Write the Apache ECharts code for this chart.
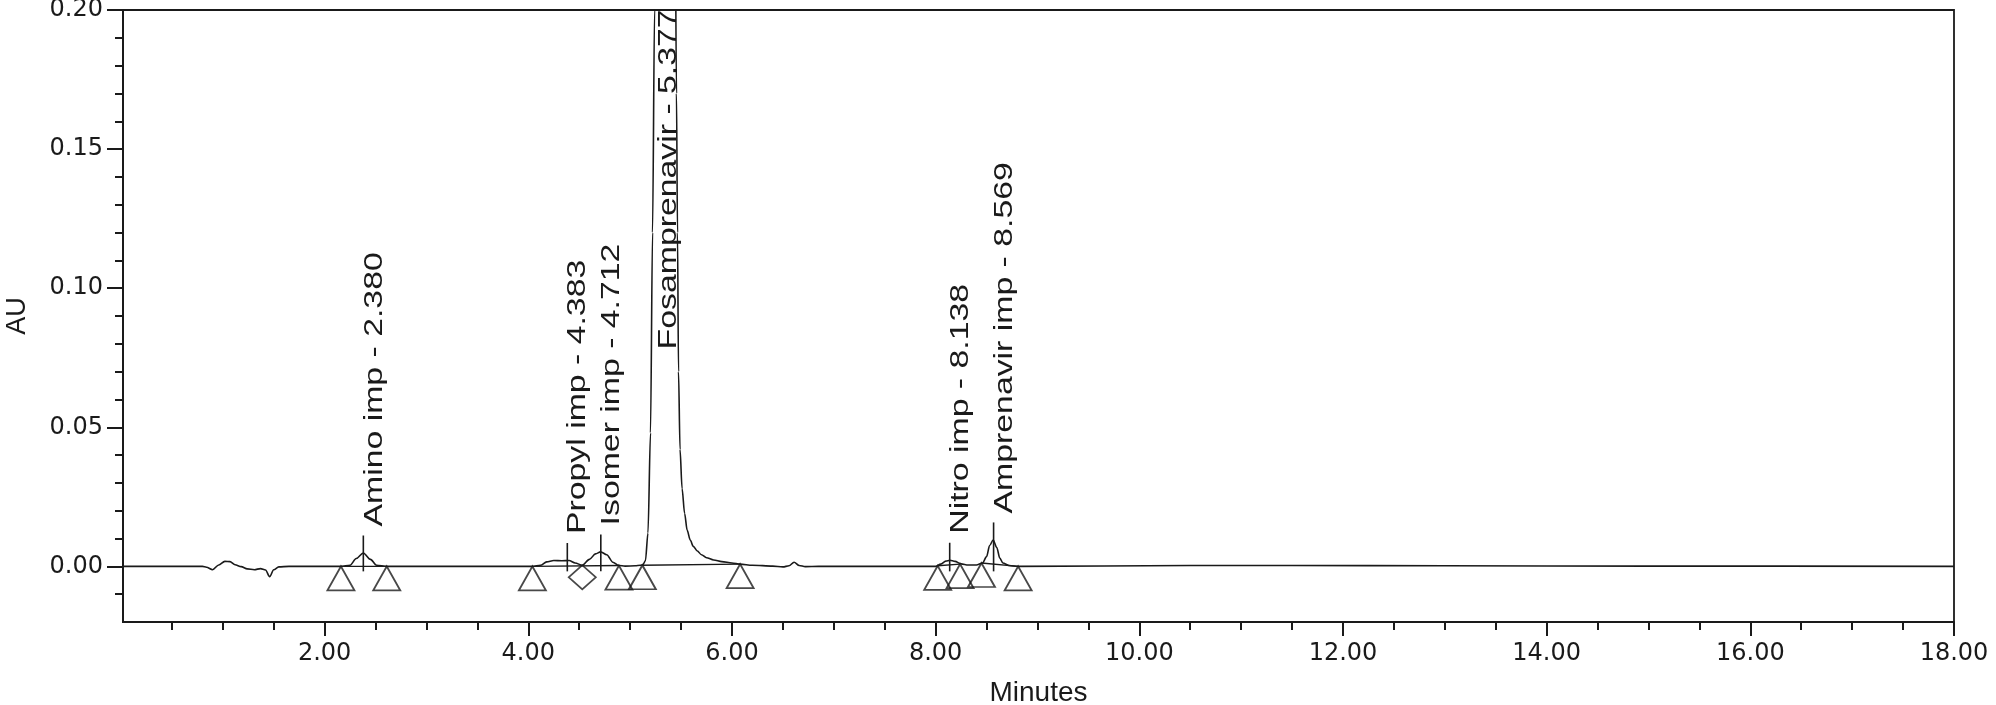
<!DOCTYPE html>
<html>
<head>
<meta charset="utf-8">
<title>Chromatogram</title>
<script src="https://cdn.jsdelivr.net/npm/echarts@6/dist/echarts.min.js"></script>
<style>
    html, body { margin: 0; padding: 0; background: #fff; }
    #chart { width: 1996px; height: 705px; }
</style>
</head>
<body>
<div id="chart"></div>
<script>
    // trace: retention time (min) / response (AU)
    var times = [0.02, 0.80, 0.84, 0.90, 0.96, 1.02, 1.07, 1.12, 1.18, 1.24, 1.31, 1.37, 1.42, 1.46, 1.50, 1.55, 1.65,
        2.16, 2.25, 2.31, 2.38, 2.45, 2.51, 2.61,
        4.04, 4.12, 4.18, 4.25, 4.33, 4.40, 4.46, 4.53, 4.60, 4.66, 4.71, 4.77, 4.83, 4.89, 4.95, 5.05,
        5.10, 5.125, 5.15, 5.175, 5.20, 5.22, 5.24, 5.28, 5.34, 5.40, 5.44, 5.455, 5.465, 5.475, 5.49, 5.51, 5.535,
        5.56, 5.59, 5.62, 5.66, 5.70, 5.75, 5.82, 5.90, 6.00, 6.08, 6.20, 6.40, 6.50, 6.56, 6.61, 6.66, 6.72, 6.85,
        8.00, 8.05, 8.10, 8.14, 8.19, 8.25, 8.32, 8.40, 8.46, 8.50, 8.53, 8.565, 8.60, 8.63, 8.66, 8.72, 8.81,
        10.5, 11.5, 13.0, 15.0, 18.0];
    var au = [0, 0, -0.0003, -0.0012, 0.0005, 0.0018, 0.0017, 0.0006, -0.0001, -0.0009, -0.0012, -0.0008, -0.0013, -0.0037, -0.0012, -0.0002, 0,
        0, 0.0004, 0.0028, 0.0048, 0.0025, 0.0004, 0,
        0, 0.0004, 0.0016, 0.0021, 0.0020, 0.0021, 0.0012, 0.0004, 0.0025, 0.0045, 0.0052, 0.0042, 0.0015, 0.0003, 0.0001, 0.0002,
        0.0004, 0.0006, 0.002, 0.012, 0.048, 0.12, 0.2, 0.45, 0.62, 0.45, 0.25, 0.17, 0.12, 0.07, 0.042, 0.028, 0.019,
        0.013, 0.0095, 0.0072, 0.0055, 0.0042, 0.0031, 0.0023, 0.0017, 0.0012, 0.0008, 0.0004, 0.0001, -0.0002, 0.0002, 0.0015, 0.0003, -0.0001, 0,
        0, 0.0008, 0.0019, 0.0022, 0.0018, 0.0009, 0.0005, 0.0005, 0.0012, 0.0035, 0.0075, 0.0095, 0.0068, 0.003, 0.0012, 0.0003, 0,
        0.0003, 0.0003, 0.0002, 0.0001, 0];

    // named peaks
    var peakNames = ['Amino imp', 'Propyl imp', 'Isomer imp', 'Fosamprenavir', 'Nitro imp', 'Amprenavir imp'];
    var peakTimes = [2.380, 4.383, 4.712, 5.377, 8.138, 8.569];
    var peakApex = [0.0048, 0.0021, 0.0052, 0.62, 0.0022, 0.0095];

    // integration marks (triangles) and valley drop (diamond)
    var markTimes = [2.16, 2.61, 4.04, 4.89, 5.12, 6.08, 8.02, 8.24, 8.45, 8.81];
    var markAu = [0, 0, 0, 0.0003, 0.0004, 0.0008, 0.0002, 0.0008, 0.0012, 0];
    var dropTimes = [4.53];
    var dropAu = [0.0004];

    // integration baselines
    var baseFromT = [2.16, 4.04, 5.12, 8.02, 8.45];
    var baseFromAu = [0, 0, 0.0004, 0.0002, 0.0012];
    var baseToT = [2.61, 4.89, 6.08, 8.24, 8.81];
    var baseToAu = [0, 0.0003, 0.0008, 0.0008, 0];

    // axis ticks
    var xMajor = [2, 4, 6, 8, 10, 12, 14, 16, 18];
    var xMinor = [0.5, 1, 1.5, 2, 2.5, 3, 3.5, 4, 4.5, 5, 5.5, 6, 6.5, 7, 7.5, 8, 8.5, 9, 9.5, 10, 10.5, 11, 11.5,
        12, 12.5, 13, 13.5, 14, 14.5, 15, 15.5, 16, 16.5, 17, 17.5, 18];
    var yMajor = [0, 0.05, 0.10, 0.15, 0.20];
    var yMinor = [-0.01, 0, 0.01, 0.02, 0.03, 0.04, 0.05, 0.06, 0.07, 0.08, 0.09, 0.10, 0.11, 0.12, 0.13, 0.14,
        0.15, 0.16, 0.17, 0.18, 0.19];

    var X_MIN = 0.02, X_MAX = 18, Y_MIN = -0.02, Y_MAX = 0.20;
    var INK = '#1a1a1a';
    var FONT = '"Liberation Sans", Arial, sans-serif';
    var TICK_FONT = '"DejaVu Sans", "Liberation Sans", sans-serif';

    var myChart = echarts.init(document.getElementById('chart'));

    function fixed2(v) {
        return v.toFixed(2);
    }

    // rotated peak label with its pointer line
    function renderPeak(params, api) {
        var i = api.value(2);
        var t = api.value(0);
        var apex = api.value(1);
        var base = api.coord([t, 0]);
        var children = [];
        var tx, ty;
        if (apex > Y_MAX) {
            var p = api.coord([t, 0.078]);
            tx = p[0];
            ty = p[1];
        } else {
            var top = api.coord([t, apex]);
            var lineTop = top[1] - 17.5;
            children.push({
                type: 'line',
                shape: { x1: base[0], y1: base[1] + 5, x2: base[0], y2: lineTop },
                style: { stroke: INK, lineWidth: 1.6 }
            });
            tx = base[0] + 11;
            ty = lineTop - 9;
        }
        children.push({
            type: 'text',
            x: tx,
            y: ty,
            rotation: Math.PI / 2,
            scaleX: 1.3,
            style: {
                text: peakNames[i] + ' - ' + peakTimes[i].toFixed(3),
                fontSize: 26,
                fontFamily: FONT,
                fill: INK,
                align: 'left',
                verticalAlign: 'middle'
            }
        });
        return { type: 'group', children: children };
    }

    var xBase = {
        type: 'value', min: X_MIN, max: X_MAX, gridIndex: 0, position: 'bottom',
        splitLine: { show: false }
    };
    var yBase = {
        type: 'value', min: Y_MIN, max: Y_MAX, gridIndex: 0, position: 'left',
        splitLine: { show: false }
    };

    var series = [{
        name: 'trace',
        type: 'line',
        data: times.map(function (t, i) { return [t, au[i]]; }),
        showSymbol: false,
        smooth: 0.3,
        smoothMonotone: 'x',
        lineStyle: { color: INK, width: 1.6 },
        z: 3
    }];

    baseFromT.forEach(function (t, i) {
        series.push({
            type: 'line',
            data: [[t, baseFromAu[i]], [baseToT[i], baseToAu[i]]],
            showSymbol: false,
            lineStyle: { color: INK, width: 1.4 },
            z: 2
        });
    });

    series.push({
        name: 'marks',
        type: 'scatter',
        data: markTimes.map(function (t, i) { return [t, markAu[i]]; }),
        symbol: 'triangle',
        symbolSize: [27, 24],
        symbolOffset: [0, 12],
        itemStyle: { color: 'rgba(0,0,0,0)', borderColor: INK, borderWidth: 1.8 },
        z: 4
    });
    series.push({
        name: 'drops',
        type: 'scatter',
        data: dropTimes.map(function (t, i) { return [t, dropAu[i]]; }),
        symbol: 'diamond',
        symbolSize: [27, 24],
        symbolOffset: [0, 12],
        itemStyle: { color: 'rgba(0,0,0,0)', borderColor: INK, borderWidth: 1.8 },
        z: 4
    });
    series.push({
        name: 'peaks',
        type: 'custom',
        data: peakTimes.map(function (t, i) { return [t, peakApex[i], i]; }),
        renderItem: renderPeak,
        clip: false,
        z: 5
    });

    var option = {
        animation: false,
        backgroundColor: '#fff',
        grid: {
            left: 123, right: 42, top: 10, bottom: 83,
            show: true, borderColor: INK, borderWidth: 1.8,
            outerBoundsMode: 'none'
        },
        xAxis: [
            Object.assign({}, xBase, {
                name: 'Minutes',
                nameLocation: 'middle',
                nameGap: 57,
                nameTextStyle: { fontSize: 28, fontFamily: FONT, color: INK },
                axisLine: { show: true, onZero: false, lineStyle: { color: INK, width: 2 } },
                axisTick: { show: true, customValues: xMinor, length: 8, lineStyle: { color: INK, width: 2 } },
                axisLabel: { show: false }
            }),
            Object.assign({}, xBase, {
                axisLine: { show: false, onZero: false },
                axisTick: { show: true, customValues: xMajor, length: 14, lineStyle: { color: INK, width: 2 } },
                axisLabel: {
                    show: true, customValues: xMajor, margin: 20,
                    fontSize: 24, fontFamily: TICK_FONT, color: INK,
                    formatter: fixed2
                }
            })
        ],
        yAxis: [
            Object.assign({}, yBase, {
                name: 'AU',
                nameLocation: 'middle',
                nameGap: 92,
                nameTextStyle: { fontSize: 27, fontFamily: FONT, color: INK },
                axisLine: { show: true, onZero: false, lineStyle: { color: INK, width: 2 } },
                axisTick: { show: true, customValues: yMinor, length: 8, lineStyle: { color: INK, width: 2 } },
                axisLabel: { show: false }
            }),
            Object.assign({}, yBase, {
                axisLine: { show: false, onZero: false },
                axisTick: { show: true, customValues: yMajor, length: 16, lineStyle: { color: INK, width: 2 } },
                axisLabel: {
                    show: true, customValues: yMajor, margin: 20,
                    fontSize: 24, fontFamily: TICK_FONT, color: INK,
                    formatter: fixed2
                }
            })
        ],
        series: series
    };

    myChart.setOption(option);
</script>
</body>
</html>
